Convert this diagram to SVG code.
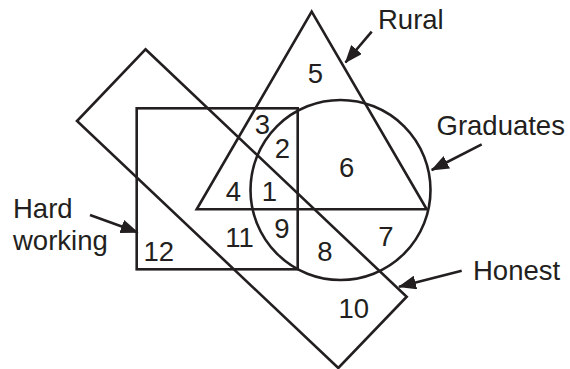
<svg xmlns="http://www.w3.org/2000/svg" width="570" height="369" viewBox="0 0 570 369">
<defs>
<marker id="ah" markerWidth="18" markerHeight="14" refX="17" refY="7" orient="auto" markerUnits="userSpaceOnUse">
<path d="M0,0 L18,7 L0,14 Z" fill="#231f20"/>
</marker>
</defs>
<style>
.s{fill:none;stroke:#231f20;stroke-width:2.6;stroke-linejoin:miter}
.a{fill:none;stroke:#231f20;stroke-width:2.6}
text{font-family:"Liberation Sans",Arial,sans-serif;font-size:27.5px;fill:#231f20}
.n{text-anchor:middle}
</style>
<rect width="570" height="369" fill="#fff"/>
<g id="honest">
<polygon class="s" points="145.5,49.3 406.7,296.7 338.3,368 77,121"/>
</g>
<g id="hardworking">
<rect class="s" x="136.7" y="108.3" width="161" height="161"/>
</g>
<g id="rural">
<polygon class="s" points="311.7,11.7 426.7,209.3 196.7,209.3"/>
</g>
<g id="graduates">
<circle class="s" cx="340.5" cy="190" r="90"/>
</g>
<g id="connectors">
<line class="a" x1="371.7" y1="31.7" x2="345.5" y2="62.5" marker-end="url(#ah)"/>
<line class="a" x1="481.7" y1="144.3" x2="431.7" y2="170" marker-end="url(#ah)"/>
<line class="a" x1="461.7" y1="270.7" x2="399" y2="286.7" marker-end="url(#ah)"/>
<line class="a" x1="90" y1="215" x2="137.7" y2="232.3" marker-end="url(#ah)"/>
</g>
<g id="labels">
<text x="378" y="28.5">Rural</text>
<text x="436.5" y="135">Graduates</text>
<text x="473" y="280">Honest</text>
<text x="13" y="218.3">Hard</text>
<text x="13" y="250">working</text>
</g>
<g id="regions">
<text class="n" x="315.5" y="83.3">5</text>
<text class="n" x="262.5" y="134">3</text>
<text class="n" x="282.5" y="158.3">2</text>
<text class="n" x="346.7" y="176.7">6</text>
<text class="n" x="233.3" y="201">4</text>
<text class="n" x="269.5" y="201">1</text>
<text class="n" x="281.8" y="238.3">9</text>
<text class="n" x="239.5" y="246.7">11</text>
<text class="n" x="158.8" y="261">12</text>
<text class="n" x="324.8" y="261">8</text>
<text class="n" x="385.8" y="245.7">7</text>
<text class="n" x="353.8" y="318.3">10</text>
</g>
</svg>
